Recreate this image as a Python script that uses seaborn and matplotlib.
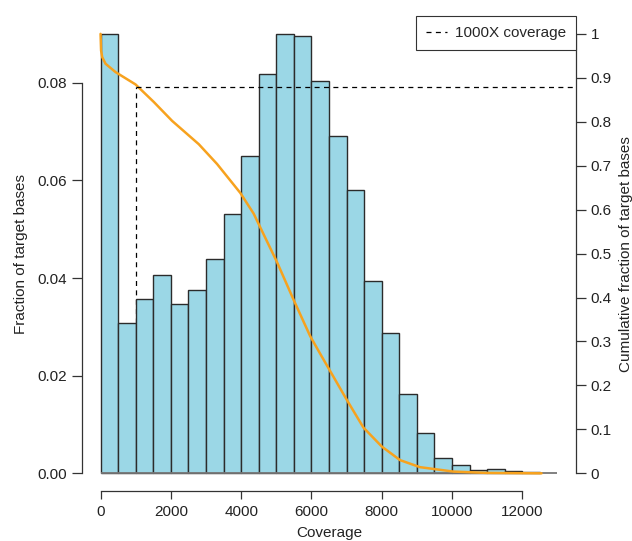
import matplotlib
matplotlib.use("Agg")
import matplotlib.pyplot as plt
import seaborn as sns
import numpy as np

# histogram of coverage, 500X bins
bin_edges = list(range(0, 13000, 500))
frac_bases = [0.0900, 0.0307, 0.0357, 0.0407, 0.0346, 0.0376, 0.0438, 0.0532,
              0.0650, 0.0817, 0.0899, 0.0895, 0.0803, 0.0691, 0.0580, 0.0393,
              0.0288, 0.0163, 0.0083, 0.0032, 0.0018, 0.0006, 0.0008, 0.0004,
              0.0002]

# cumulative fraction of bases with coverage >= x
cum_cov = [0, 15, 47, 142, 426, 994, 1515, 2036, 2794, 3314, 3977, 4356,
           4735, 5019, 5492, 5966, 6250, 7008, 7481, 8002, 8523, 9091,
           10038, 10985, 12548]
cum_frac = [1.0, 0.962, 0.947, 0.932, 0.913, 0.885, 0.845, 0.802, 0.749,
            0.704, 0.638, 0.591, 0.528, 0.481, 0.395, 0.312, 0.272, 0.167,
            0.104, 0.061, 0.030, 0.014, 0.004, 0.001, 0.0]

cutoff = 1000
cutoff_frac = 0.88

sns.set_style("ticks")
plt.rcParams["font.family"] = ["Liberation Sans", "DejaVu Sans"]
FS = 11

fig = plt.figure(figsize=(6.32, 5.41), dpi=100)
ax = fig.add_axes([0.1302, 0.0926, 0.7807, 0.8773])
ax2 = ax.twinx()

centers = [e + 250 for e in bin_edges[:-1]]
M = max(frac_bases)

# dashed guide below the bars
ax.vlines(cutoff, 0, cutoff_frac * M, colors="black", linestyles=(0, (4, 3.5)),
          linewidth=0.9, zorder=0)
sns.histplot(x=centers, weights=frac_bases, bins=bin_edges, ax=ax,
             color="#9BD7E6", edgecolor="#2b2b2b", linewidth=1.0, alpha=1)
ax.hlines(0, 0, 13000, colors="#777777", linewidth=1.3, zorder=5)

sns.lineplot(x=cum_cov, y=cum_frac, ax=ax2, color="#F7A21E", linewidth=1.8)
ax2.hlines(cutoff_frac, cutoff, 13520, colors="black", linestyles=(0, (4, 3.5)),
           linewidth=0.9, label="1000X coverage")

ax.set_xlim(-520, 13520)
ax.set_ylim(-0.04 * M, 1.04 * M)
ax2.set_ylim(-0.04, 1.04)

ax.set_xticks(range(0, 12001, 2000))
ax.set_xticklabels([str(v) for v in range(0, 12001, 2000)], fontsize=FS)
ax.set_yticks([0, 0.02, 0.04, 0.06, 0.08])
ax.set_yticklabels(["0.00", "0.02", "0.04", "0.06", "0.08"], fontsize=FS)
rt = [i / 10 for i in range(11)]
ax2.set_yticks(rt)
ax2.set_yticklabels(["0"] + [f"{v:.1f}" for v in rt[1:-1]] + ["1"], fontsize=FS)

ax.set_xlabel("Coverage", fontsize=FS, labelpad=5)
ax.set_ylabel("Fraction of target bases", fontsize=FS, labelpad=7)
ax2.set_ylabel("Cumulative fraction of target bases", fontsize=FS, labelpad=5.5)

for a in (ax, ax2):
    a.tick_params(axis="y", direction="out", length=7.3, width=0.9,
                  color="#333333", pad=3.5, labelcolor="#222222")
    for s in a.spines.values():
        s.set_color("#333333")
        s.set_linewidth(0.9)
ax.tick_params(axis="x", direction="out", length=6, width=0.9,
               color="#333333", pad=4.5, labelcolor="#222222")
ax.spines[["top", "right"]].set_visible(False)
ax2.spines[["top", "left", "bottom"]].set_visible(False)
ax.spines["left"].set_bounds(0, 0.08)
ax.spines["bottom"].set_bounds(0, 12000)
ax2.spines["right"].set_bounds(0, 1)
ax.xaxis.label.set_color("#222222")
ax.yaxis.label.set_color("#222222")
ax2.yaxis.label.set_color("#222222")

leg = ax2.legend(loc="upper right", bbox_to_anchor=(1.0, 1.0), borderaxespad=0,
                 fontsize=FS, frameon=True, fancybox=False, handlelength=1.4,
                 handletextpad=0.5, borderpad=0.65)
leg.get_frame().set_edgecolor("#333333")
leg.get_frame().set_linewidth(0.8)
leg.get_frame().set_alpha(1)

fig.savefig("out.png", dpi=100)
